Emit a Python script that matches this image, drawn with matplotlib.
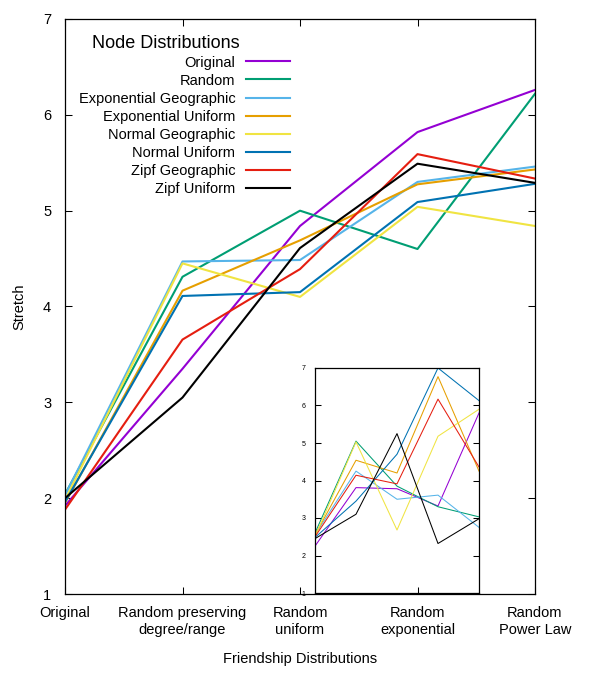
import matplotlib
matplotlib.use("Agg")
import matplotlib.pyplot as plt
import numpy as np

plt.rcParams['font.family'] = ['Liberation Sans', 'DejaVu Sans']

# friendship distributions (x categories)
friend_labels = ["Original", "Random preserving\ndegree/range", "Random\nuniform",
                 "Random\nexponential", "Random\nPower Law"]

node_names = ["Original", "Random", "Exponential Geographic", "Exponential Uniform",
              "Normal Geographic", "Normal Uniform", "Zipf Geographic", "Zipf Uniform"]
colors = ["#9400d3", "#009e73", "#56b4e9", "#e69f00", "#f0e442", "#0072b2", "#e51e10", "#000000"]

# main chart: stretch per node distribution
original = [1.92, 3.35, 4.84, 5.82, 6.26]
random_ = [2.04, 4.31, 5.00, 4.60, 6.22]
exp_geo = [2.03, 4.47, 4.485, 5.30, 5.46]
exp_uni = [1.95, 4.165, 4.69, 5.275, 5.43]
norm_geo = [1.98, 4.45, 4.10, 5.04, 4.84]
norm_uni = [1.96, 4.11, 4.15, 5.09, 5.28]
zipf_geo = [1.88, 3.655, 4.39, 5.59, 5.335]
zipf_uni = [2.00, 3.05, 4.61, 5.49, 5.29]
main_series = [original, random_, exp_geo, exp_uni, norm_geo, norm_uni, zipf_geo, zipf_uni]

# inset chart
in_original = [2.25, 3.81, 3.78, 3.32, 5.80]
in_random = [2.60, 5.05, 3.85, 3.30, 3.03]
in_exp_geo = [2.55, 4.25, 3.50, 3.61, 2.75]
in_exp_uni = [2.55, 4.54, 4.20, 6.77, 4.25]
in_norm_geo = [2.50, 5.03, 2.68, 5.18, 5.90]
in_norm_uni = [2.48, 3.45, 4.70, 7.00, 6.13]
in_zipf_geo = [2.50, 4.14, 3.91, 6.17, 4.36]
in_zipf_uni = [2.45, 3.10, 5.25, 2.32, 2.98]
inset_series = [in_original, in_random, in_exp_geo, in_exp_uni,
                in_norm_geo, in_norm_uni, in_zipf_geo, in_zipf_uni]

fig = plt.figure(figsize=(6, 7), dpi=100)
W, H = 600.0, 700.0
ax = fig.add_axes([65 / W, 1 - 594 / H, 470 / W, 575 / H])

x = np.arange(len(friend_labels))
for vals, name, c in zip(main_series, node_names, colors):
    ax.plot(x, vals, color=c, lw=1.5, label=name)

ax.set_xlim(0, 4)
ax.set_ylim(1, 7)
ax.set_xticks(x)
ax.set_xticklabels(friend_labels, fontsize=10.5, linespacing=1.3)
ax.set_yticks(range(1, 8))
ax.tick_params(axis='both', direction='in', length=4.7, width=0.75,
               top=True, right=True, labelsize=10.5)
ax.tick_params(axis='x', pad=8.5)
ax.tick_params(axis='y', pad=10)
for s in ax.spines.values():
    s.set_linewidth(0.9)
ax.set_ylabel("Stretch", fontsize=10.5, labelpad=12)
ax.set_xlabel("Friendship Distributions", fontsize=10.5, labelpad=11)

leg = ax.legend(loc='upper right', bbox_to_anchor=(290 / W, 1 - 55.5 / H),
                bbox_transform=fig.transFigure, frameon=False, markerfirst=False,
                fontsize=10.5, handlelength=3.0, handletextpad=0.75,
                labelspacing=0.28, borderpad=0, borderaxespad=0)
fig.text(92 / W, 1 - 43.5 / H, "Node Distributions", fontsize=13, ha='left', va='center')

# inset
ax2 = fig.add_axes([315 / W, 1 - 593 / H, 164 / W, 225 / H])
for vals, c in zip(inset_series, colors):
    ax2.plot(x, vals, color=c, lw=0.75)
ax2.set_xlim(0, 4)
ax2.set_ylim(1, 7)
ax2.set_xticks([2.5])
ax2.set_xticklabels([""])
ax2.set_yticks(range(1, 8))
ax2.tick_params(axis='both', direction='in', length=4.5, width=0.75,
                right=True, labelsize=5, pad=7)
for s in ax2.spines.values():
    s.set_linewidth(0.9)

fig.savefig("out.png", dpi=100)
